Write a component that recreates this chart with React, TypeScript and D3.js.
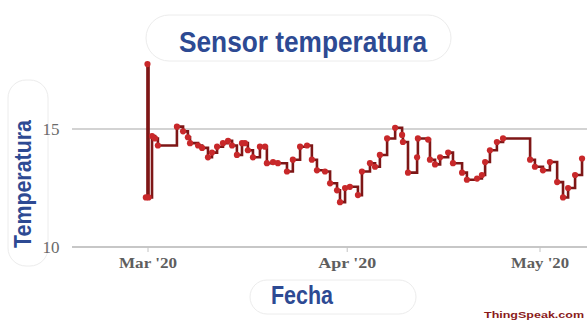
import React from "react";
import * as d3 from "d3";

const times: string[] = [
  "2020-02-29T16:00", "2020-02-29T22:00", "2020-03-01T02:00", "2020-03-01T15:00", "2020-03-02T02:00",
  "2020-03-02T13:00", "2020-03-05T12:00", "2020-03-06T11:00", "2020-03-07T05:00", "2020-03-07T13:00",
  "2020-03-08T19:00", "2020-03-09T10:00", "2020-03-10T08:00", "2020-03-10T23:00", "2020-03-11T18:00",
  "2020-03-12T16:00", "2020-03-13T11:00", "2020-03-14T02:00", "2020-03-14T20:00", "2020-03-15T15:00",
  "2020-03-16T02:00", "2020-03-16T13:00", "2020-03-17T08:00", "2020-03-18T10:00", "2020-03-19T05:00",
  "2020-03-19T12:00", "2020-03-20T11:00", "2020-03-21T05:00", "2020-03-22T15:00", "2020-03-23T13:00",
  "2020-03-24T16:00", "2020-03-25T18:00", "2020-03-26T12:00", "2020-03-27T07:00", "2020-03-28T13:00",
  "2020-03-29T08:00", "2020-03-30T10:00", "2020-03-30T21:00", "2020-03-31T16:00", "2020-04-01T10:00",
  "2020-04-02T16:00", "2020-04-03T07:00", "2020-04-04T13:00", "2020-04-05T08:00", "2020-04-06T02:00",
  "2020-04-07T05:00", "2020-04-08T11:00", "2020-04-09T13:00", "2020-04-09T16:00", "2020-04-10T11:00",
  "2020-04-11T21:00", "2020-04-12T00:00", "2020-04-13T14:00", "2020-04-13T21:00", "2020-04-14T16:00",
  "2020-04-15T11:00", "2020-04-16T17:00", "2020-04-17T11:00", "2020-04-18T21:00", "2020-04-19T15:00",
  "2020-04-21T05:00", "2020-04-21T23:00", "2020-04-22T11:00", "2020-04-23T05:00", "2020-04-24T07:00",
  "2020-04-25T06:00", "2020-04-29T11:00", "2020-04-30T05:00", "2020-05-01T11:00", "2020-05-02T13:00",
  "2020-05-03T16:00", "2020-05-04T14:00", "2020-05-05T09:00", "2020-05-06T11:00", "2020-05-07T13:00",
];

const temps: number[] = [
  12.1, 17.75, 12.1, 14.7, 14.6,
  14.3, 15.1, 14.9, 14.65, 14.4,
  14.3, 14.2, 13.8, 14.0, 14.25,
  14.4, 14.5, 14.3, 13.9, 14.4,
  14.4, 14.1, 13.8, 14.25, 14.25,
  13.55, 13.6, 13.55, 13.2, 13.7,
  14.25, 14.3, 13.7, 13.25, 13.2,
  12.7, 12.4, 11.9, 12.5, 12.55,
  12.2, 13.2, 13.55, 13.4, 13.9,
  14.6, 15.05, 14.75, 14.45, 13.15,
  13.8, 14.6, 14.55, 13.7, 13.5,
  13.8, 14.0, 13.55, 13.15, 12.85,
  12.9, 13.05, 13.6, 14.1, 14.45,
  14.6, 13.7, 13.4, 13.25, 13.6,
  12.75, 12.1, 12.5, 13.05, 13.75,
];

const yTicks: number[] = [10, 15];
const title = "Sensor temperatura";
const xTitle = "Fecha";
const yTitle = "Temperatura";
const credit = "ThingSpeak.com";

const W = 587;
const H = 322;
const plotLeft = 72;
const plotRight = 587;

export default function App() {
  const parse = d3.timeParse("%Y-%m-%dT%H:%M");
  const data = times.map((t, i) => ({ t: parse(t) as Date, v: temps[i] }));

  const x = d3
    .scaleTime()
    .domain([new Date(2020, 2, 1), new Date(2020, 4, 1)])
    .range([148, 540]);
  const y = d3.scaleLinear().domain([10, 15]).range([247, 129]);

  const line = d3
    .line<{ t: Date; v: number }>()
    .x((d) => x(d.t))
    .y((d) => y(d.v))
    .curve(d3.curveStepAfter);

  const xTicks = d3.timeMonth
    .range(new Date(2020, 1, 1), new Date(2020, 5, 1))
    .filter((d) => x(d) >= plotLeft && x(d) <= plotRight);
  const fmt = d3.timeFormat("%b '%y");

  return (
    <svg
      width={W}
      height={H}
      style={{ position: "absolute", left: 0, top: 0, background: "#fff" }}
    >
      <defs>
        <clipPath id="plot">
          <rect x={plotLeft} y={20} width={plotRight - plotLeft} height={240} />
        </clipPath>
      </defs>

      {/* faint outline boxes */}
      <rect x={146} y={15} width={305} height={46} rx={23} fill="none" stroke="#ececec" strokeWidth={1} />
      <rect x={8} y={80} width={40} height={186} rx={18} fill="none" stroke="#ececec" strokeWidth={1} />
      <rect x={250} y={280} width={166} height={34} rx={17} fill="none" stroke="#ececec" strokeWidth={1} />

      {/* gridlines */}
      {yTicks.map((t) => (
        <line
          key={t}
          x1={plotLeft}
          x2={plotRight}
          y1={y(t)}
          y2={y(t)}
          stroke={t === 10 ? "#b5b5b5" : "#c4c4c4"}
          strokeWidth={1.6}
        />
      ))}
      {yTicks.map((t) => (
        <text
          key={"l" + t}
          x={51}
          y={y(t)}
          dy="0.35em"
          textAnchor="middle"
          fontFamily="Liberation Serif, DejaVu Serif, serif"
          fontSize={17}
          fill="#6a6a6a"
        >
          {t}
        </text>
      ))}

      {/* x ticks */}
      {xTicks.map((d) => (
        <g key={+d}>
          <line x1={x(d)} x2={x(d)} y1={y(10)} y2={y(10) + 5} stroke="#c4c4c4" strokeWidth={1} />
          <text
            x={x(d)}
            y={263}
            dy="0.35em"
            textAnchor="middle"
            fontFamily="Liberation Serif, DejaVu Serif, serif"
            fontWeight="bold"
            fontSize={14}
            fill="#5e5e5e"
            textLength={58}
            lengthAdjust="spacingAndGlyphs"
          >
            {fmt(d)}
          </text>
        </g>
      ))}

      {/* data */}
      <g clipPath="url(#plot)">
        <path d={line(data) || ""} fill="none" stroke="#7e1616" strokeWidth={2.6} />
        {data.map((d, i) => (
          <circle key={i} cx={x(d.t)} cy={y(d.v)} r={3.1} fill="#c8282a" />
        ))}
      </g>

      {/* titles */}
      <text
        x={303}
        y={52}
        textAnchor="middle"
        fontFamily="Liberation Sans Narrow, Liberation Sans, Arial, sans-serif"
        fontWeight="bold"
        fontSize={29}
        fill="#2d4a93"
        textLength={248}
        lengthAdjust="spacingAndGlyphs"
      >
        {title}
      </text>
      <text
        transform="translate(31,184) rotate(-90)"
        textAnchor="middle"
        fontFamily="Liberation Sans Narrow, Liberation Sans, Arial, sans-serif"
        fontWeight="bold"
        fontSize={24}
        fill="#2d4a93"
        textLength={128}
        lengthAdjust="spacingAndGlyphs"
      >
        {yTitle}
      </text>
      <text
        x={302}
        y={304}
        textAnchor="middle"
        fontFamily="Liberation Sans Narrow, Liberation Sans, Arial, sans-serif"
        fontWeight="bold"
        fontSize={25}
        fill="#2d4a93"
        textLength={62}
        lengthAdjust="spacingAndGlyphs"
      >
        {xTitle}
      </text>
      <text
        x={584}
        y={318}
        textAnchor="end"
        fontFamily="Liberation Sans, Arial, sans-serif"
        fontWeight="bold"
        fontSize={9}
        fill="#8a1a1a"
        textLength={100}
        lengthAdjust="spacingAndGlyphs"
      >
        {credit}
      </text>
    </svg>
  );
}
